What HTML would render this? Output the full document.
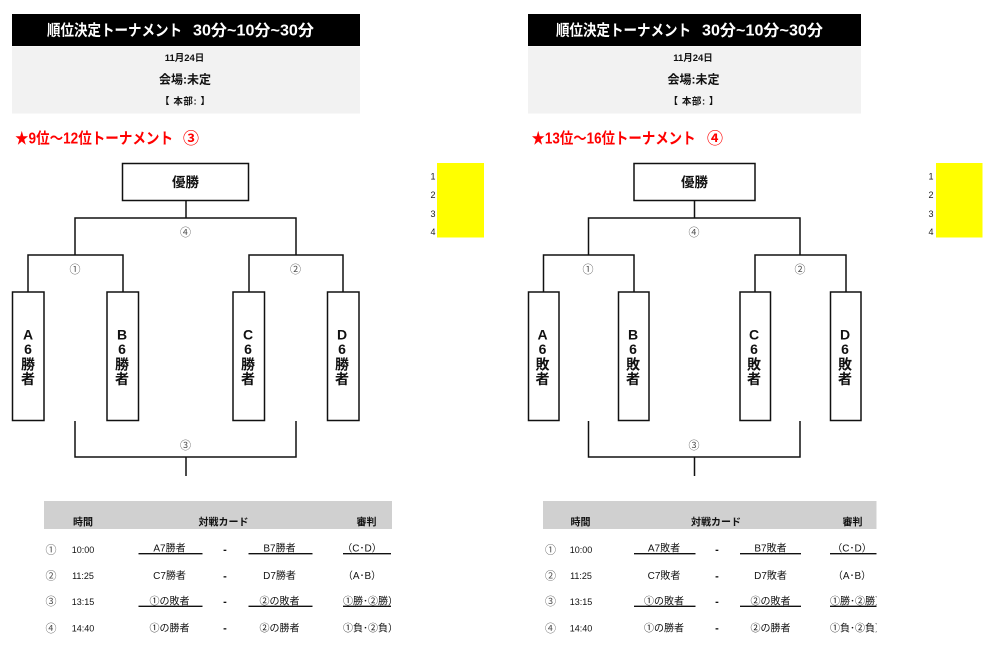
<!DOCTYPE html>
<html lang="ja">
<head>
<meta charset="utf-8">
<title>順位決定トーナメント</title>
<style>
html,body{margin:0;padding:0;background:#fff;width:1000px;height:645px;overflow:hidden}
svg{display:block;filter:blur(0.35px)}
text{font-family:"Liberation Sans","Noto Sans CJK JP",sans-serif;fill:#111;text-anchor:middle}
.t{font-size:15.5px;font-weight:700;fill:#fff;text-anchor:start}
.d{font-size:9.5px;font-weight:700}
.v{font-size:12px;font-weight:700}
.r{font-size:15.5px;font-weight:700;fill:#f00;text-anchor:start}
.w{font-size:13.5px;font-weight:700}
.n{font-size:14px;font-weight:700}
.c{font-size:11px;fill:#555}
.s{font-size:10px}
.e{font-size:10px;text-anchor:start}
.m{font-size:9px}
.x{font-size:11px;font-weight:700}
.y{font-size:9px;fill:#222}
.th{font-size:10px;font-weight:700}
.l{fill:none;stroke:#111;stroke-width:1.5}
.u{stroke:#111;stroke-width:1.3}
.box{fill:#fff;stroke:#111;stroke-width:1.5}
</style>
</head>
<body>
<svg width="1000" height="645" viewBox="0 0 1000 645" xmlns="http://www.w3.org/2000/svg">
<defs>
<clipPath id="cl"><rect x="0" y="495" width="391" height="150"/></clipPath>
<clipPath id="cr"><rect x="500" y="495" width="376.500" height="150"/></clipPath>
</defs>

<!-- LEFT -->
<rect x="12" y="14" width="348" height="32" fill="#000"/>
<rect x="12" y="46.500" width="348" height="67" fill="#f2f2f2"/>
<text class="t" x="47" y="35.500" textLength="135" lengthAdjust="spacingAndGlyphs">順位決定トーナメント</text>
<text class="t" x="193" y="35.500" textLength="121" lengthAdjust="spacingAndGlyphs">30分~10分~30分</text>
<text class="d" x="184.500" y="61">11月24日</text>
<text class="v" x="185" y="83.500">会場:未定</text>
<text class="d" x="185" y="104.500" textLength="50" lengthAdjust="spacing">【  本部:  】</text>
<text class="r" x="15" y="143.500" textLength="158" lengthAdjust="spacingAndGlyphs">★9位～12位トーナメント</text>
<text class="r" x="183" y="143.500" textLength="16" lengthAdjust="spacingAndGlyphs">③</text>

<rect class="box" x="122.500" y="163.500" width="126" height="37"/>
<text class="w" x="185.500" y="187">優勝</text>
<path class="l" d="M186 200V218M75 255V218H296V255M28 292V255H123V292M249 292V255H343V292"/>
<path class="l" d="M75 421V457H296V421M186 457V476"/>
<rect class="box" x="12.500" y="292" width="31.500" height="128.500"/>
<rect class="box" x="107" y="292" width="31.500" height="128.500"/>
<rect class="box" x="233" y="292" width="31.500" height="128.500"/>
<rect class="box" x="327.500" y="292" width="31.500" height="128.500"/>
<text class="n" x="28" y="339.500">A</text><text class="n" x="28" y="354">6</text><text class="n" x="28" y="369.500">勝</text><text class="n" x="28" y="384">者</text>
<text class="n" x="122" y="339.500">B</text><text class="n" x="122" y="354">6</text><text class="n" x="122" y="369.500">勝</text><text class="n" x="122" y="384">者</text>
<text class="n" x="248" y="339.500">C</text><text class="n" x="248" y="354">6</text><text class="n" x="248" y="369.500">勝</text><text class="n" x="248" y="384">者</text>
<text class="n" x="342" y="339.500">D</text><text class="n" x="342" y="354">6</text><text class="n" x="342" y="369.500">勝</text><text class="n" x="342" y="384">者</text>
<text class="c" x="185.500" y="236">④</text>
<text class="c" x="75" y="273">①</text>
<text class="c" x="295.500" y="273">②</text>
<text class="c" x="185.500" y="449">③</text>

<rect x="437" y="163" width="47" height="74.500" fill="#ff0"/>
<text class="y" x="433" y="179.500">1</text>
<text class="y" x="433" y="198">2</text>
<text class="y" x="433" y="217">3</text>
<text class="y" x="433" y="235">4</text>

<rect x="44" y="501" width="348" height="28" fill="#d0d0d0"/>
<text class="th" x="83" y="525.500">時間</text>
<text class="th" x="223.500" y="525.500">対戦カード</text>
<text class="th" x="366.500" y="525.500">審判</text>
<g clip-path="url(#cl)">
<text class="c" x="51" y="553.500">①</text><text class="m" x="83" y="553">10:00</text>
<text class="s" x="169.500" y="551.500">A7勝者</text><text class="x" x="225" y="553">-</text><text class="s" x="279.500" y="551.500">B7勝者</text><text class="s" x="362" y="551.500">（C･D）</text>
<path class="u" d="M138.500 553.700H202.500M248.500 553.700H312.500M343 553.700H391"/>
<text class="c" x="51" y="579.500">②</text><text class="m" x="83" y="579">11:25</text>
<text class="s" x="169.500" y="579">C7勝者</text><text class="x" x="225" y="579.500">-</text><text class="s" x="279.500" y="579">D7勝者</text><text class="s" x="362" y="579">（A･B）</text>
<text class="c" x="51" y="605">③</text><text class="m" x="83" y="605">13:15</text>
<text class="s" x="169.500" y="604.500">①の敗者</text><text class="x" x="225" y="605">-</text><text class="s" x="279.500" y="604.500">②の敗者</text><text class="e" x="343" y="604.500">①勝･②勝）</text>
<path class="u" d="M138.500 606.300H202.500M248.500 606.300H312.500M343 606.300H391"/>
<text class="c" x="51" y="632">④</text><text class="m" x="83" y="631.500">14:40</text>
<text class="s" x="169.500" y="631.500">①の勝者</text><text class="x" x="225" y="631.500">-</text><text class="s" x="279.500" y="631.500">②の勝者</text><text class="e" x="343" y="631.500">①負･②負）</text>
</g>

<!-- RIGHT -->
<rect x="528" y="14" width="333" height="32" fill="#000"/>
<rect x="528" y="46.500" width="333" height="67" fill="#f2f2f2"/>
<text class="t" x="556" y="35.500" textLength="135" lengthAdjust="spacingAndGlyphs">順位決定トーナメント</text>
<text class="t" x="702" y="35.500" textLength="121" lengthAdjust="spacingAndGlyphs">30分~10分~30分</text>
<text class="d" x="693" y="61">11月24日</text>
<text class="v" x="693.500" y="83.500">会場:未定</text>
<text class="d" x="693.500" y="104.500" textLength="50" lengthAdjust="spacing">【  本部:  】</text>
<text class="r" x="531.500" y="143.500" textLength="164" lengthAdjust="spacingAndGlyphs">★13位～16位トーナメント</text>
<text class="r" x="707" y="143.500" textLength="16" lengthAdjust="spacingAndGlyphs">④</text>

<rect class="box" x="634" y="163.500" width="121" height="37"/>
<text class="w" x="694.500" y="187">優勝</text>
<path class="l" d="M694.500 200V218M588.500 255V218H800V255M543.500 292V255H634V292M755 292V255H846V292"/>
<path class="l" d="M588.500 421V457H800V421M694.500 457V476"/>
<rect class="box" x="528.500" y="292" width="30.500" height="128.500"/>
<rect class="box" x="618.500" y="292" width="30.500" height="128.500"/>
<rect class="box" x="740" y="292" width="30.500" height="128.500"/>
<rect class="box" x="830.500" y="292" width="30.500" height="128.500"/>
<text class="n" x="542.500" y="339.500">A</text><text class="n" x="542.500" y="354">6</text><text class="n" x="542.500" y="369.500">敗</text><text class="n" x="542.500" y="384">者</text>
<text class="n" x="633" y="339.500">B</text><text class="n" x="633" y="354">6</text><text class="n" x="633" y="369.500">敗</text><text class="n" x="633" y="384">者</text>
<text class="n" x="754" y="339.500">C</text><text class="n" x="754" y="354">6</text><text class="n" x="754" y="369.500">敗</text><text class="n" x="754" y="384">者</text>
<text class="n" x="845" y="339.500">D</text><text class="n" x="845" y="354">6</text><text class="n" x="845" y="369.500">敗</text><text class="n" x="845" y="384">者</text>
<text class="c" x="694" y="236">④</text>
<text class="c" x="588" y="273">①</text>
<text class="c" x="800" y="273">②</text>
<text class="c" x="694" y="449">③</text>

<rect x="936" y="163" width="46.500" height="74.500" fill="#ff0"/>
<text class="y" x="931" y="179.500">1</text>
<text class="y" x="931" y="198">2</text>
<text class="y" x="931" y="217">3</text>
<text class="y" x="931" y="235">4</text>

<rect x="543" y="501" width="333.500" height="28" fill="#d0d0d0"/>
<text class="th" x="580.500" y="525.500">時間</text>
<text class="th" x="716" y="525.500">対戦カード</text>
<text class="th" x="852.500" y="525.500">審判</text>
<g clip-path="url(#cr)">
<text class="c" x="550.500" y="553.500">①</text><text class="m" x="581" y="553">10:00</text>
<text class="s" x="664" y="551.500">A7敗者</text><text class="x" x="717" y="553">-</text><text class="s" x="770.500" y="551.500">B7敗者</text><text class="s" x="852" y="551.500">（C･D）</text>
<path class="u" d="M634 553.700H695.500M740 553.700H801M830 553.700H876.500"/>
<text class="c" x="550.500" y="579.500">②</text><text class="m" x="581" y="579">11:25</text>
<text class="s" x="664" y="579">C7敗者</text><text class="x" x="717" y="579.500">-</text><text class="s" x="770.500" y="579">D7敗者</text><text class="s" x="852" y="579">（A･B）</text>
<text class="c" x="550.500" y="605">③</text><text class="m" x="581" y="605">13:15</text>
<text class="s" x="664" y="604.500">①の敗者</text><text class="x" x="717" y="605">-</text><text class="s" x="770.500" y="604.500">②の敗者</text><text class="e" x="830" y="604.500">①勝･②勝）</text>
<path class="u" d="M634 606.300H695.500M740 606.300H801M830 606.300H876.500"/>
<text class="c" x="550.500" y="632">④</text><text class="m" x="581" y="631.500">14:40</text>
<text class="s" x="664" y="631.500">①の勝者</text><text class="x" x="717" y="631.500">-</text><text class="s" x="770.500" y="631.500">②の勝者</text><text class="e" x="830" y="631.500">①負･②負）</text>
</g>
</svg>
</body>
</html>
